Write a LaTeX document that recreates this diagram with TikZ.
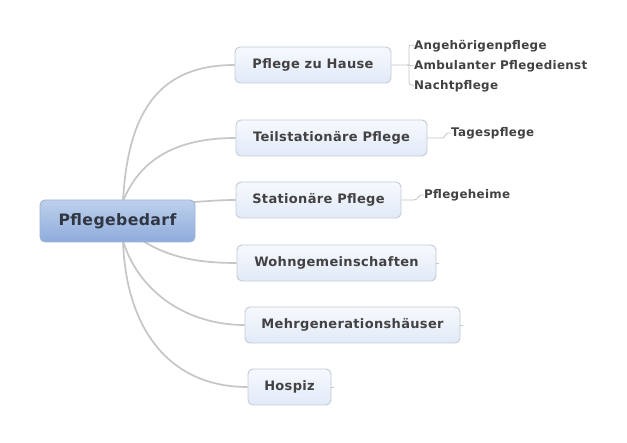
\documentclass[tikz,border=0pt]{standalone}
\usepackage{fontspec}
\setmainfont{DejaVu Sans}[LetterSpace=2.5]
\usetikzlibrary{shadings}
\definecolor{txt}{HTML}{424242}
\definecolor{lnk}{HTML}{C6C6C6}
\definecolor{bord}{HTML}{C3CAD6}
\definecolor{rbord}{HTML}{9FB3D3}
\tikzset{
  topic/.style={draw=bord, line width=0.9pt, rounded corners=5pt, top color={rgb,255:red,246;green,249;blue,254}, bottom color={rgb,255:red,226;green,234;blue,248}, text=txt, font=\bfseries\fontsize{13}{15}\selectfont, inner sep=0pt, anchor=center},
  rootbox/.style={draw=rbord, line width=0.9pt, rounded corners=5pt, top color={rgb,255:red,190;green,208;blue,236}, bottom color={rgb,255:red,142;green,172;blue,220}, text={rgb,255:red,48;green,54;blue,66}, font=\bfseries\fontsize{15.7}{18}\selectfont, inner sep=0pt, minimum width=155pt, minimum height=42pt},
  leaf/.style={text=txt, font=\bfseries\fontsize{11.9}{14}\selectfont, inner sep=0pt, anchor=west},
  mainlink/.style={draw=lnk, line width=1.7pt},
  sublink/.style={draw=lnk, line width=0.8pt},
}
\begin{document}
\begin{tikzpicture}[x=1pt,y=-1pt]
\useasboundingbox (0,0) rectangle (627,443);
\fill[white] (0,0) rectangle (627,443);
% main nodes
\node[topic, minimum width=156pt, minimum height=36pt] (a) at (313,65) {Pflege zu Hause};
\node[topic, minimum width=191pt, minimum height=36pt] (b) at (331.5,138) {Teilstationäre Pflege};
\node[topic, minimum width=165pt, minimum height=36pt] (c) at (318.5,200) {Stationäre Pflege};
\node[topic, minimum width=199pt, minimum height=36pt] (d) at (336.5,263) {Wohngemeinschaften};
\node[topic, minimum width=215pt, minimum height=36pt] (e) at (352.5,325) {Mehrgenerationshäuser};
\node[topic, minimum width=83pt, minimum height=36pt] (f) at (289.5,387) {Hospiz};
% connectors from root (drawn first, under root)
\coordinate (rt) at (123,201);
\coordinate (rb) at (123,241);
\coordinate (rb2) at (143,241);
\coordinate (rr) at (194,202);
\draw[mainlink] (rt) .. controls (128,110) and (160,65) .. (a.west);
\draw[mainlink] (rt) .. controls (140,160) and (175,138) .. (b.west);
\draw[mainlink] (rr) .. controls (210,201) and (220,200) .. (c.west);
\draw[mainlink] (rb2) .. controls (170,258) and (200,263) .. (d.west);
\draw[mainlink] (rb) .. controls (140,295) and (190,325) .. (e.west);
\draw[mainlink] (rb) .. controls (126,330) and (170,387) .. (f.west);
\node[rootbox] (root) at (117.5,221) {Pflegebedarf};
% leaves
\node[leaf] (a1) at (414,46) {Angehörigenpflege};
\node[leaf] (a2) at (414,66) {Ambulanter Pflegedienst};
\node[leaf] (a3) at (414,86) {Nachtpflege};
\node[leaf] (b1) at (451,133) {Tagespflege};
\node[leaf] (c1) at (424,195) {Pflegeheime};
% sub connectors
\coordinate (aj) at (407,65);
\draw[sublink] (a.east) -- (aj) -- (a2.west);
\draw[sublink] (aj) -- (409,65) -- (409,48) .. controls (409,45.5) .. (412,45) -- (a1.west);
\draw[sublink] (409,65) -- (409,82) .. controls (409,84.5) .. (412,85) -- (a3.west);
\draw[sublink] (b.east) -- (442,138) .. controls (446,138) and (444,132) .. (b1.west);
\draw[sublink] (c.east) -- (414,200) .. controls (419,200) and (417,194) .. (c1.west);
\coordinate (ds) at (439,263);
\coordinate (es) at (463,325);
\coordinate (fs) at (334,387);
\draw[sublink] (d.east) -- (ds);
\draw[sublink] (e.east) -- (es);
\draw[sublink] (f.east) -- (fs);
\end{tikzpicture}
\end{document}
